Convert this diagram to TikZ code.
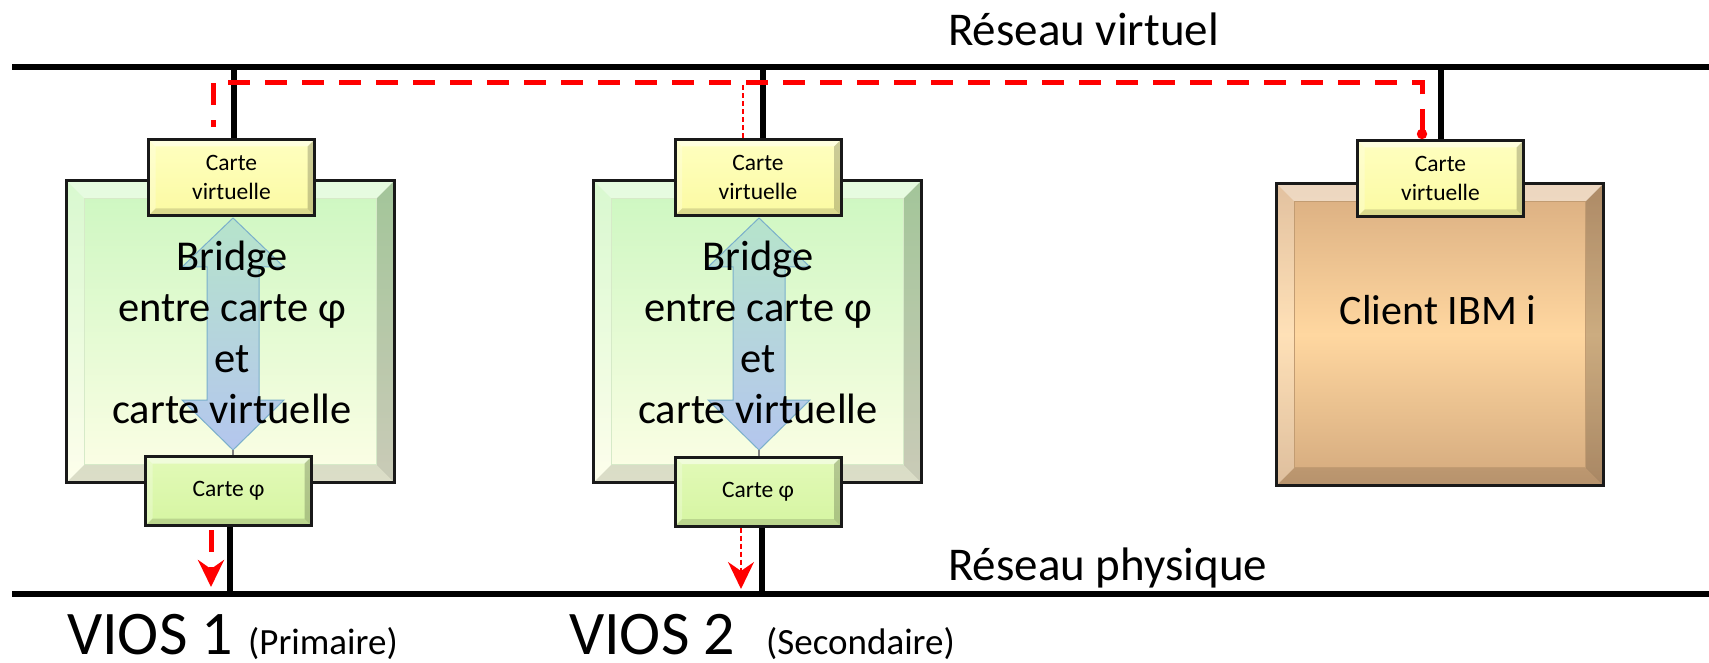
\documentclass[tikz,border=0pt]{standalone}
\usepackage{fontspec}
\setmainfont{Carlito}
\usetikzlibrary{arrows.meta}

\definecolor{vgTop}{HTML}{CCF7C0}
\definecolor{vgBot}{HTML}{FDFEE6}
\definecolor{vgLine}{HTML}{D6EAC8}
\definecolor{ctTop}{HTML}{D9AD80}
\definecolor{ctMid}{HTML}{FFD7A0}
\definecolor{ctBot}{HTML}{D3A97D}
\definecolor{ctLine}{HTML}{C29C72}
\definecolor{cardY}{HTML}{FBFAA2}
\definecolor{cardYTop}{HTML}{FFFFC0}
\definecolor{cardG}{HTML}{D6F5A2}
\definecolor{cardGTop}{HTML}{E2FAB8}
\definecolor{brTop}{HTML}{B6E4CB}
\definecolor{brBot}{HTML}{B4C6EE}
\definecolor{brLine}{HTML}{7AAFCB}
\definecolor{flow}{HTML}{FF0000}

% bevelled rim drawn inside a node outline; #1 is the rim width
\newcommand\bevelrim[1]{%
  \fill[white,opacity=.5] (path picture bounding box.north west) -- (path picture bounding box.north east)
    -- ([xshift=-#1,yshift=-#1]path picture bounding box.north east) -- ([xshift=#1,yshift=-#1]path picture bounding box.north west) -- cycle;
  \fill[white,opacity=.25] (path picture bounding box.north west) -- ([xshift=#1,yshift=-#1]path picture bounding box.north west)
    -- ([xshift=#1,yshift=#1]path picture bounding box.south west) -- (path picture bounding box.south west) -- cycle;
  \fill[black,opacity=.2] (path picture bounding box.north east) -- (path picture bounding box.south east)
    -- ([xshift=-#1,yshift=#1]path picture bounding box.south east) -- ([xshift=-#1,yshift=-#1]path picture bounding box.north east) -- cycle;
  \fill[black,opacity=.13] (path picture bounding box.south west) -- (path picture bounding box.south east)
    -- ([xshift=-#1,yshift=#1]path picture bounding box.south east) -- ([xshift=#1,yshift=#1]path picture bounding box.south west) -- cycle;}

\tikzset{
  net/.style={line width=6pt, black},
  tap/.style={line width=5.5pt, black},
  hostbox/.style={draw=black!90, line width=3pt, inner sep=0pt,
    path picture={\bevelrim{18pt}
      \draw[#1, line width=1pt] ([xshift=18pt,yshift=-18pt]path picture bounding box.north west)
        rectangle ([xshift=-18pt,yshift=18pt]path picture bounding box.south east);}},
  vioshost/.style={hostbox=vgLine, top color=vgTop, bottom color=vgBot},
  clienthost/.style={hostbox=ctLine, top color=ctTop, bottom color=ctBot, middle color=ctMid},
  card/.style={draw=black!90, line width=3pt, inner sep=0pt, align=center,
    font=\fontsize{23.5}{29}\selectfont, path picture={\bevelrim{7pt}}},
  vcard/.style={card, top color=cardYTop, bottom color=cardY, minimum width=166pt, minimum height=76pt},
  pcard/.style={card, top color=cardGTop, bottom color=cardG, minimum width=166pt, minimum height=69pt},
  bridgetext/.style={align=center, inner sep=0pt, font=\fontsize{42.5}{51}\selectfont},
  netlabel/.style={anchor=base west, inner sep=0pt, font=\fontsize{47}{56}\selectfont},
  flowthick/.style={flow, line width=5pt, dash pattern=on 22pt off 15pt},
  flowthin/.style={flow, line width=1.6pt, dash pattern=on 5pt off 3pt},
  flowhead/.style={-{Stealth[length=27pt,width=26pt,inset=9pt]}},
  bridgearrow/.pic={
    \shadedraw[top color=brTop, bottom color=brBot, draw=brLine, line width=1pt]
      (0,0) -- (51,49) -- (26,49) -- (26,182) -- (51,182) -- (0,232)
      -- (-51,182) -- (-26,182) -- (-26,49) -- (-51,49) -- cycle;}
}

\begin{document}
\begin{tikzpicture}[x=1pt,y=-1pt]
\useasboundingbox (0,0) rectangle (1709,663);

% networks
\coordinate (vnL) at (12,67);  \coordinate (vnR) at (1709,67);
\coordinate (pnL) at (12,594); \coordinate (pnR) at (1709,594);
\draw[net] (vnL) -- (vnR);
\draw[net] (pnL) -- (pnR);
\node[netlabel] (vnlabel) at (948,46) {Réseau virtuel};
\node[netlabel] (pnlabel) at (948,580) {Réseau physique};

% partitions
\node[vioshost, minimum width=328pt, minimum height=302pt] (v1box) at (230.5,331.5) {};
\node[vioshost, minimum width=328pt, minimum height=302pt] (v2box) at (757.5,331.5) {};
\node[clienthost, minimum width=327pt, minimum height=302pt] (clbox) at (1440,334.5) {};

% bridges (the base anchor sits on the last line)
\pic at (233,218) {bridgearrow};
\pic at (759,218) {bridgearrow};
\node[bridgetext, anchor=base] (v1bridge) at (232,423) {Bridge\\entre carte φ\\et\\carte virtuelle};
\node[bridgetext, anchor=base] (v2bridge) at (758,423) {Bridge\\entre carte φ\\et\\carte virtuelle};
\node[anchor=base, inner sep=0pt, font=\fontsize{42}{50}\selectfont] (cltext) at (1438,324) {Client IBM i};

% adapters
\node[vcard] (v1top) at (231.5,177.5) {Carte\\virtuelle};
\node[pcard] (v1bot) at (228.5,491) {Carte φ};
\node[vcard] (v2top) at (758,177.5) {Carte\\virtuelle};
\node[pcard] (v2bot) at (758,491.5) {Carte φ};
\node[vcard] (cltop) at (1440.5,178.5) {Carte\\virtuelle};

\coordinate (g1) at (233,450); \coordinate (g2) at (759,450);
\draw[gray, line width=2pt] (g1) -- (g1 |- v1bot.north);
\draw[gray, line width=2pt] (g2) -- (g2 |- v2bot.north);

% taps onto the networks
\coordinate (t1) at (234,67);  \coordinate (t2) at (763,67);  \coordinate (t3) at (1441,67);
\coordinate (b1) at (230,594); \coordinate (b2) at (762,594);
\draw[tap] (t1) -- (t1 |- v1top.north);
\draw[tap] (t2) -- (t2 |- v2top.north);
\draw[tap] (t3) -- (t3 |- cltop.north);
\draw[tap] (b1 |- v1bot.south) -- (b1);
\draw[tap] (b2 |- v2bot.south) -- (b2);

% traffic paths
\draw[flowthick, {Circle[length=10pt]}-] ([xshift=-18.5pt]cltop.north) -- ++(0,-56)
  -| ([xshift=-18.5pt,yshift=11pt]v1top.north);
\draw[flowthick, flowhead, shorten >=7pt] ([xshift=-17.5pt,yshift=-3pt]v1bot.south) -- ([xshift=-17.5pt]v1bot.south |- pnL);
\draw[flowthin] ([xshift=-15pt]v2top.north) -- ++(0,-55);
\draw[flowthin, flowhead, shorten >=5pt] ([xshift=-17pt]v2bot.south) -- ([xshift=-17pt]v2bot.south |- pnL);

% partition names
\node[anchor=base west, inner sep=0pt, font=\fontsize{62}{70}\selectfont] (v1name) at (67,654) {VIOS 1};
\node[anchor=base west, inner sep=0pt, font=\fontsize{37}{44}\selectfont] (v1role) at (248,654) {(Primaire)};
\node[anchor=base west, inner sep=0pt, font=\fontsize{62}{70}\selectfont] (v2name) at (569,654) {VIOS 2};
\node[anchor=base west, inner sep=0pt, font=\fontsize{37}{44}\selectfont] (v2role) at (766,654) {(Secondaire)};
\end{tikzpicture}
\end{document}
